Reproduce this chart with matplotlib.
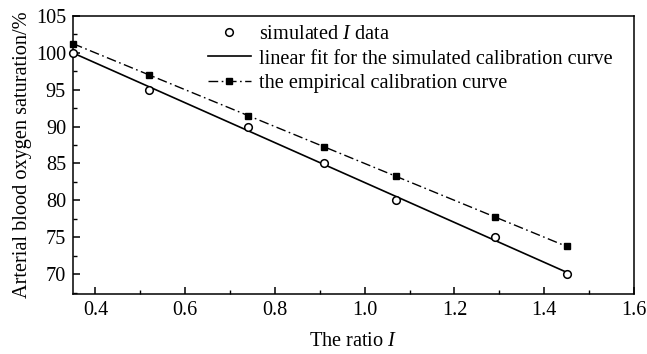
import numpy as np
import matplotlib
matplotlib.use("Agg")
import matplotlib.pyplot as plt

# ratio I and arterial SpO2 values
ratio_sim = [0.35, 0.52, 0.74, 0.91, 1.07, 1.29, 1.45]
spo2_sim = [100, 95, 90, 85, 80, 75, 70]
spo2_emp = [101.25, 97.0, 91.5, 87.25, 83.25, 77.75, 73.75]

plt.rcParams["font.family"] = ["Liberation Serif", "DejaVu Serif"]
plt.rcParams["mathtext.fontset"] = "custom"
plt.rcParams["mathtext.it"] = "Liberation Serif:italic"
plt.rcParams["mathtext.rm"] = "Liberation Serif"

FS = 14.6

fig = plt.figure(figsize=(6.47, 3.54), dpi=100)
ax = fig.add_axes([73 / 647, 1 - 294 / 354, (634 - 73) / 647, (294 - 16) / 354])

# linear fit of the simulated points
slope, intercept = np.polyfit(ratio_sim, spo2_sim, 1)
xfit = np.array([ratio_sim[0], ratio_sim[-1]])

ax.plot(ratio_sim, spo2_sim, "o", mfc="white", mec="black", ms=5.5, mew=1.1,
        label=r"simulated $I$ data", clip_on=False, zorder=4)
ax.plot(xfit, slope * xfit + intercept, "-", color="black", lw=1.2,
        label="linear fit for the simulated calibration curve")
ax.plot(ratio_sim, spo2_emp, color="black", lw=1.0, dashes=(7, 2.5, 1.2, 2.5),
        marker="s", ms=5, label="the empirical calibration curve",
        clip_on=False, zorder=3)

ax.set_xlim(0.35, 1.6)
ax.set_ylim(67.3, 105)
ax.set_xticks([0.4, 0.6, 0.8, 1.0, 1.2, 1.4, 1.6])
ax.set_xticks(np.arange(0.5, 1.6, 0.2), minor=True)
ax.set_yticks([70, 75, 80, 85, 90, 95, 100, 105])
ax.set_yticks(np.arange(67.5, 105, 5), minor=True)
ax.tick_params(direction="in", which="major", length=5, width=1.1,
               labelsize=FS, pad=5)
ax.tick_params(direction="in", which="minor", length=3, width=1.0)
for s in ax.spines.values():
    s.set_linewidth(1.1)

ax.set_xlabel(r"The ratio $I$", fontsize=FS, labelpad=9)
ax.set_ylabel("Arterial blood oxygen saturation/%", fontsize=FS, labelpad=3)

ax.legend(loc="upper left", bbox_to_anchor=(0.2175, 1.014), frameon=False,
          fontsize=FS, handlelength=2.1, handletextpad=0.4,
          labelspacing=0.24, borderaxespad=0.25)

fig.savefig("out.png", dpi=100)
